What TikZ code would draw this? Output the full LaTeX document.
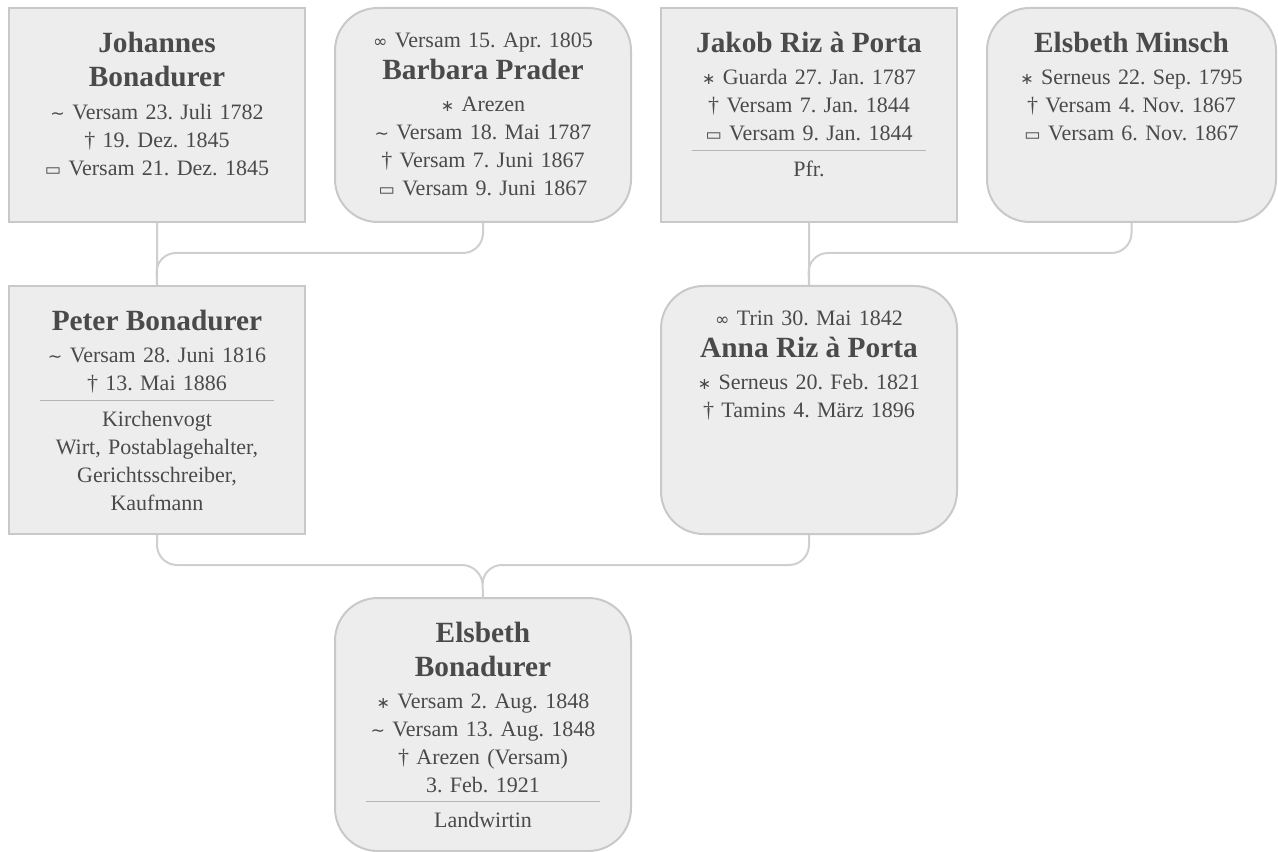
\documentclass[tikz,border=0pt]{standalone}
\usepackage{fontspec}
\setmainfont{Liberation Serif}
\newfontfamily\symfont{DejaVu Sans}
\usepackage{tikz}
\frenchspacing

\definecolor{boxfill}{HTML}{EDEDED}
\definecolor{boxline}{HTML}{C9C9C9}
\definecolor{linkgray}{HTML}{CFCFCF}
\definecolor{ink}{HTML}{4A4A4A}
\definecolor{sepgray}{HTML}{B5B5B5}

\newcommand{\pname}[1]{{\fontsize{22}{26}\selectfont\bfseries #1}}
\newcommand{\geb}{{\symfont\fontsize{12}{10}\selectfont ∗}}
\newcommand{\tauf}{{\symfont\fontsize{13}{10}\selectfont ∼}}
\newcommand{\gest}{†}
\newcommand{\begr}{{\symfont\fontsize{13}{10}\selectfont ▭}}
\newcommand{\heir}{{\symfont\fontsize{13}{10}\selectfont ∞}}
\newcommand{\trenn}{{\color{sepgray}\rule{176pt}{0.75pt}}}

\begin{document}
\begin{tikzpicture}[x=0.75pt, y=-0.75pt,
    square/.style={draw=boxline, fill=boxfill, line width=1.5pt,
      minimum width=222pt, inner sep=0pt, anchor=north west},
    round/.style={square, rounded corners=32pt},
    txt/.style={text=ink, text width=210pt, align=center, inner sep=0pt,
      font=\fontsize{16.5}{21}\selectfont, anchor=north},
    link/.style={draw=linkgray, line width=1.5pt, rounded corners=15pt}]
        \useasboundingbox (0,0) rectangle (1278,852);

        % grandparents
        \node[square, minimum height=160.5pt] (johannes) at (8,7) {};
        \node[round, minimum height=160.5pt] (barbara) at (334,7) {};
        \node[square, minimum height=160.5pt] (jakob) at (660,7) {};
        \node[round, minimum height=160.5pt, minimum width=216.75pt] (minsch) at (986,7) {};

        % parents
        \node[square, minimum height=186pt] (peter) at (8,285) {};
        \node[round, minimum height=186pt] (anna) at (660,285) {};

        % child
        \node[round, minimum height=189.75pt] (elsbeth) at (334,597) {};

        \node[txt] (johannes text) at ([yshift=-19pt]johannes.north) {
          \pname{Johannes}\\[4pt]
          \pname{Bonadurer}\\[4pt]
          \tauf\ Versam 23. Juli 1782\\
          \gest\ 19. Dez. 1845\\
          \begr\ Versam 21. Dez. 1845};
        \node[txt] (barbara text) at ([yshift=-19pt]barbara.north) {
          \heir\ Versam 15. Apr. 1805\\[3pt]
          \pname{Barbara Prader}\\[3pt]
          \geb\ Arezen\\
          \tauf\ Versam 18. Mai 1787\\
          \gest\ Versam 7. Juni 1867\\
          \begr\ Versam 9. Juni 1867};
        \node[txt] (jakob text) at ([yshift=-19pt]jakob.north) {
          \pname{Jakob Riz à Porta}\\[3pt]
          \geb\ Guarda 27. Jan. 1787\\
          \gest\ Versam 7. Jan. 1844\\
          \begr\ Versam 9. Jan. 1844\\[-13.5pt]
          \trenn\\[-2pt]
          Pfr.};
        \node[txt] (minsch text) at ([yshift=-19pt]minsch.north) {
          \pname{Elsbeth Minsch}\\[3pt]
          \geb\ Serneus 22. Sep. 1795\\
          \gest\ Versam 4. Nov. 1867\\
          \begr\ Versam 6. Nov. 1867};
        \node[txt] (peter text) at ([yshift=-19pt]peter.north) {
          \pname{Peter Bonadurer}\\[3pt]
          \tauf\ Versam 28. Juni 1816\\
          \gest\ 13. Mai 1886\\[-13.5pt]
          \trenn\\[-2pt]
          Kirchenvogt\\
          Wirt, Postablagehalter,\\
          Gerichtsschreiber,\\
          Kaufmann};
        \node[txt] (anna text) at ([yshift=-19pt]anna.north) {
          \heir\ Trin 30. Mai 1842\\[3pt]
          \pname{Anna Riz à Porta}\\[3pt]
          \geb\ Serneus 20. Feb. 1821\\
          \gest\ Tamins 4. März 1896};
        \node[txt] (elsbeth text) at ([yshift=-19pt]elsbeth.north) {
          \pname{Elsbeth}\\[4pt]
          \pname{Bonadurer}\\[3pt]
          \geb\ Versam 2. Aug. 1848\\
          \tauf\ Versam 13. Aug. 1848\\
          \gest\ Arezen (Versam)\\
          3. Feb. 1921\\[-13.5pt]
          \trenn\\[-2pt]
          Landwirtin};

        \coordinate (peter in) at (156,253);
        \coordinate (anna in) at (808,253);
        \coordinate (fork) at (482,565);

        \draw[link]
         (johannes.south) -- (peter.north)
         (barbara.south) |- (peter in) -- (peter.north)

         (jakob.south) -- (anna.north)
         (minsch.south) |- (anna in) -- (anna.north)

         (peter.south) |- (fork) -- (elsbeth.north)
         (anna.south) |- (fork) -- (elsbeth.north);
        \end{tikzpicture}
\end{document}
